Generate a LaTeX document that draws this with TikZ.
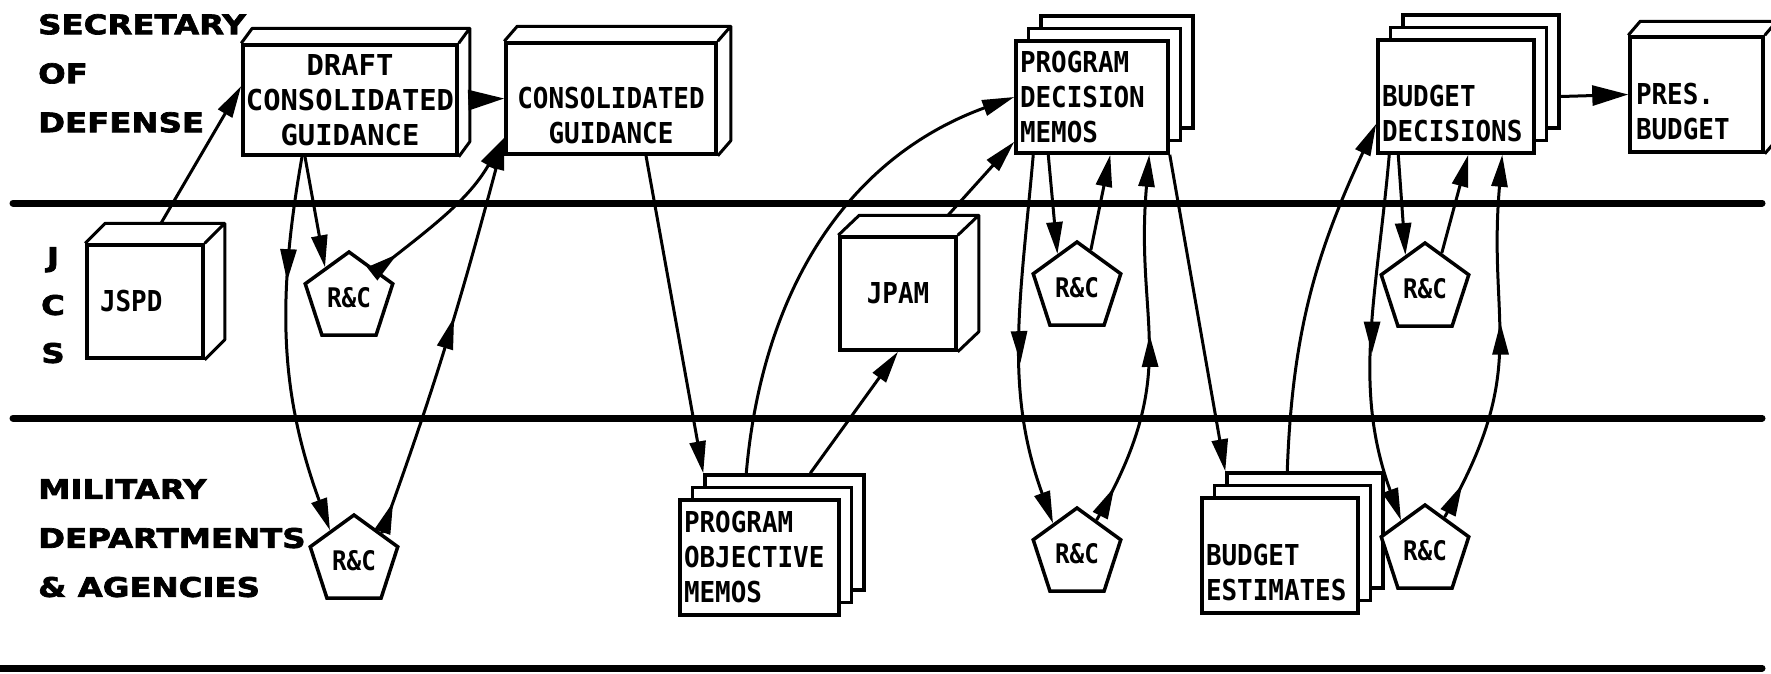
\documentclass[tikz,border=0pt]{standalone}
\usepackage{fontspec}
\usetikzlibrary{arrows.meta,shadows,shapes.geometric,decorations.markings}
\newfontfamily\boxfont[FakeStretch=0.9]{DejaVu Sans Mono}
\newfontfamily\draftfont[FakeStretch=1.0]{DejaVu Sans Mono}
\newfontfamily\lanefont[FakeStretch=1.2,FakeBold=2.5]{DejaVu Sans Bold}
% top and right face of a box node
\newcommand{\cubeside}[3]{%
  \draw[line width=3pt,line join=round] (#1.north west) -- ++(#2,#3)
    -- ([shift={(#2,#3)}]#1.north east) -- ([shift={(#2,#3)}]#1.south east)
    -- (#1.south east) (#1.north east) -- ++(#2,#3);}

\begin{document}
\begin{tikzpicture}[x=1pt,y=1pt,
    lane/.style={font=\lanefont\fontsize{27}{#1}\selectfont,inner sep=0pt},
    box/.style={draw,line width=3.5pt,fill=white,inner sep=0pt,
      font=\boxfont\bfseries\fontsize{28.8}{35}\selectfont},
    stack/.style={box,align=left,text width=#1,
      copy shadow={shadow xshift=25pt,shadow yshift=25pt,line width=3.5pt},
      copy shadow={shadow xshift=12.5pt,shadow yshift=12.5pt,line width=3.5pt}},
    rc/.style={regular polygon,regular polygon sides=5,draw,line width=3.5pt,
      fill=white,minimum size=92pt,inner sep=0pt,
      font=\boxfont\bfseries\fontsize{27}{30}\selectfont},
    flow/.style={line width=3pt,-{Triangle[length=32pt,width=16pt]}},
    flowbig/.style={line width=3pt,-{Triangle[length=36pt,width=20pt]}},
    midarrow/.style={postaction={decorate,decoration={markings,
      mark=at position #1 with {\arrow{Triangle[length=32pt,width=16pt]}}}}},
    sep/.style={line width=7pt,line cap=round}]
  \useasboundingbox[fill=white] (0,0) rectangle (1771,-673);

  % lanes
  \draw[sep] (13,-203) -- (1762,-203);
  \draw[sep] (13,-418) -- (1762,-418);
  \draw[sep] (0,-668) -- (1762,-668);
  \node[lane=49,anchor=north west,align=left] (secdef) at (38,-14) {SECRETARY\\OF\\DEFENSE};
  \node[lane=48,anchor=north,align=center] (jcs) at (53,-247) {J\\C\\S};
  \node[lane=49,anchor=north west,align=left] (mildep) at (38,-479) {MILITARY\\DEPARTMENTS\\\& AGENCIES};

  % boxes
  \node[box,minimum width=214pt,minimum height=110pt,align=center,
    font=\draftfont\bfseries\fontsize{28.8}{35}\selectfont] (draft) at (350,-100) {DRAFT\\CONSOLIDATED\\GUIDANCE};
  \cubeside{draft}{11}{15}
  \node[box,minimum width=210pt,minimum height=111pt,align=center] (cons) at (611,-98.5) {\phantom{X}\\CONSOLIDATED\\GUIDANCE};
  \cubeside{cons}{13}{15}
  \node[box,minimum width=116pt,minimum height=113pt,text width=90pt,align=left] (jspd) at (145,-301.5) {JSPD};
  \cubeside{jspd}{20}{20}
  \node[box,minimum width=116pt,minimum height=113pt,align=center] (jpam) at (898,-293.5) {JPAM};
  \cubeside{jpam}{21}{20}
  \node[box,minimum width=133pt,minimum height=115pt,text width=121pt,align=left] (pres) at (1696.5,-94.5) {\phantom{X}\\PRES.\\BUDGET};
  \cubeside{pres}{12}{14}
  \node[stack=144pt,minimum width=152pt,minimum height=112pt] (pdm) at (1092,-97) {PROGRAM\\DECISION\\MEMOS};
  \node[stack=148pt,minimum width=156pt,minimum height=113pt] (bd) at (1456,-96.5) {\phantom{X}\\BUDGET\\DECISIONS};
  \node[stack=151pt,minimum width=159pt,minimum height=115pt] (pom) at (759.5,-557.5) {PROGRAM\\OBJECTIVE\\MEMOS};
  \node[stack=148pt,minimum width=156pt,minimum height=115pt] (be) at (1280,-555.5) {\phantom{X}\\BUDGET\\ESTIMATES};

  % review and comment
  \node[rc] (rc1) at (349,-298) {R\&C};
  \node[rc] (rc2) at (354,-561) {R\&C};
  \node[rc] (rc3) at (1077,-288) {R\&C};
  \node[rc] (rc4) at (1077,-554) {R\&C};
  \node[rc] (rc5) at (1425,-289) {R\&C};
  \node[rc] (rc6) at (1425,-551) {R\&C};

  % guidance
  \draw[flow] ([shift={(16pt,20pt)}]jspd.north) -- ([yshift=14pt]draft.west);
  \draw[flowbig] ([xshift=11pt]draft.east) -- (cons.west);
  \draw[flow] ([xshift=-45pt]draft.south) -- (rc1.128);
  \draw[flow,midarrow=0.33] ([xshift=-48pt]draft.south) to[out=-100,in=110] (rc2.128);
  \draw[flow,midarrow=0.14] (rc1.45) to[out=38,in=-120] ([yshift=18pt]cons.south west);
  \draw[flow,midarrow=0.08,midarrow=0.55] (rc2.45) to[out=70,in=-105] ([yshift=18pt]cons.south west);
  \draw[flow] ([xshift=35pt]cons.south) -- ([shift={(25pt,25pt)}]pom.north west);
  % program
  \draw[flow] ([shift={(68pt,25pt)}]pom.north west) to[out=85,in=200] (pdm.west);
  \draw[flow] ([shift={(132pt,25pt)}]pom.north west) -- (jpam.south);
  \draw[flow] ([shift={(50pt,20pt)}]jpam.north) -- ([yshift=13pt]pdm.south west);
  \draw[flow,midarrow=0.56] ([xshift=19pt]pdm.south west) to[out=-95,in=110] (rc4.128);
  \draw[flow] ([xshift=34pt]pdm.south west) -- (rc3.120);
  \draw[flow] (rc3.70) -- ([xshift=96pt]pdm.south west);
  \draw[flow,midarrow=0.1,midarrow=0.52] (rc4.60) to[out=60,in=-95,looseness=1.2] ([xshift=135pt]pdm.south west);
  % budget
  \draw[flow] (pdm.south east) -- ([shift={(25pt,25pt)}]be.north west);
  \draw[flow] ([shift={(87pt,25pt)}]be.north west) to[out=88,in=-115] ([yshift=31pt]bd.south west);
  \draw[flow,midarrow=0.54] ([xshift=13pt]bd.south west) to[out=-95,in=110] (rc6.128);
  \draw[flow] ([xshift=22pt]bd.south west) -- (rc5.120);
  \draw[flow] (rc5.65) -- ([xshift=92pt]bd.south west);
  \draw[flow,midarrow=0.1,midarrow=0.55] (rc6.60) to[out=60,in=-95,looseness=1.2] ([xshift=126pt]bd.south west);
  \draw[flowbig] ([xshift=25pt]bd.east) -- (pres.west);
\end{tikzpicture}
\end{document}
